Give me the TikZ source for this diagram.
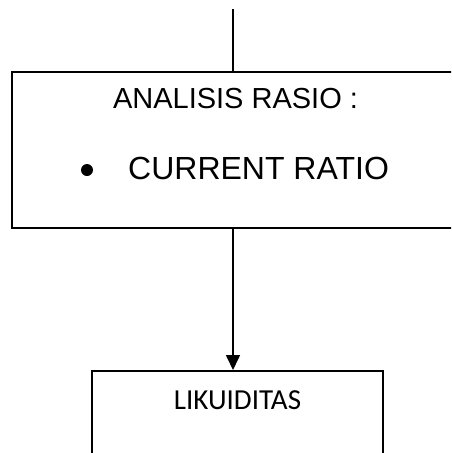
\documentclass[tikz,border=0pt]{standalone}
\usepackage{fontspec}
\setmainfont{Liberation Sans}
\newfontfamily\calib{Carlito}
\usetikzlibrary{arrows.meta}
\begin{document}
\begin{tikzpicture}[x=1pt,y=-1pt,
  box/.style={draw, line width=1.6pt, rectangle, inner sep=0pt},
  lbl/.style={anchor=base, inner sep=0pt},
  conn/.style={line width=1.6pt}]
\useasboundingbox (0,0) rectangle (451,453);
\clip (0,0) rectangle (451,453);
\node[box, minimum width=470pt, minimum height=156pt, anchor=north west] (top) at (11,71) {};
\node[box, minimum width=291pt, minimum height=100pt, anchor=north west] (bot) at (91,370) {};
\coordinate (start) at (233,9);
\draw[conn] (start) -- (top.north -| start);
\draw[conn, -{Triangle[length=15pt,width=14pt]}] (top.south -| start) -- (bot.north -| start);
\node[lbl, font=\fontsize{29}{34}\selectfont] (t1) at (235.5,108) {ANALISIS RASIO :};
\node[circle, fill, minimum size=12pt, inner sep=0pt] (bul) at (87,170) {};
\node[lbl, anchor=base west, font=\fontsize{32}{38}\selectfont] (t2) at (128,179) {CURRENT RATIO};
\node[lbl, font=\calib\fontsize{29}{34}\selectfont] (t3) at (237.5,409) {LIKUIDITAS};
\end{tikzpicture}
\end{document}
